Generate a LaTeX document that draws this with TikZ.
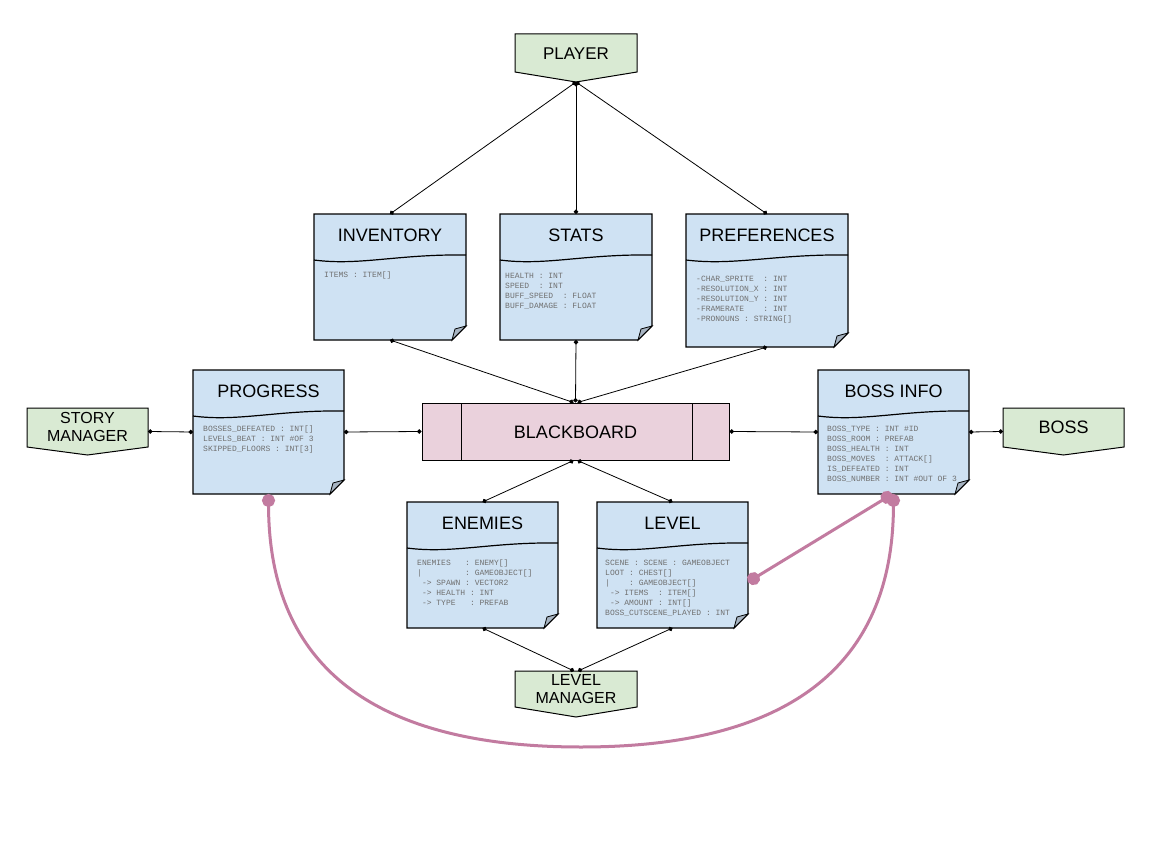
\documentclass[tikz,border=0pt]{standalone}
\usepackage{fontspec}
\setmainfont{Liberation Sans}
\setmonofont{Liberation Mono}
\usetikzlibrary{arrows.meta,calc}
\definecolor{noteblue}{HTML}{CFE2F3}
\definecolor{foldgray}{HTML}{A7B4C2}
\definecolor{gfill}{HTML}{D9EAD3}
\definecolor{bbfill}{HTML}{EAD1DC}
\definecolor{pinkline}{HTML}{C27BA0}
\definecolor{bodygray}{HTML}{707070}
\tikzset{
  outline/.style={draw=black, line width=1.2pt},
  conn/.style={draw=black, line width=0.8pt, {Circle[length=4.5pt]}-{Circle[length=4.5pt]}},
  pinkconn/.style={draw=pinkline, line width=3pt, {Circle[length=13pt]}-{Circle[length=13pt]}},
  anchorbox/.style={inner sep=0pt, outer sep=0pt, draw=none},
  titletext/.style={font=\fontsize{18}{20}\selectfont, inner sep=0pt},
  gtext/.style={font=\fontsize{16}{18}\selectfont, inner sep=0pt, align=center},
  bodytext/.style={font=\ttfamily\fontsize{8}{10}\selectfont, text=bodygray, align=left, anchor=north west, inner sep=0pt},
}
% name, l, t, r, b, title, bodyx, bodyy, body
\newcommand\mknote[9]{%
  \filldraw[fill=noteblue, outline] (#2,#3) -- (#4,#3) -- (#4,#5-14) -- (#4-14,#5) -- (#2,#5) -- cycle;
  \draw[outline] (#2,#3+46) .. controls ({#2+0.3*(#4-#2)},#3+52) and ({#2+0.55*(#4-#2)},#3+40) .. (#4,#3+41);
  \filldraw[fill=foldgray, draw=black, line width=0.8pt] (#4-14,#5) .. controls (#4-12,#5-6) .. (#4-11,#5-11) .. controls (#4-6,#5-12) .. (#4,#5-14) -- cycle;
  \node[anchorbox, minimum width={#4-#2}, minimum height={#5-#3}] (#1) at ({(#2+#4)/2},{(#3+#5)/2}) {};
  \node[titletext] (#1-title) at ({(#2+#4)/2},#3+21) {#6};
  \node[bodytext] (#1-body) at (#7,#8-4.4) {\strut#9};
}
% name, l, t, side, r, tip
\newcommand\mkgreen[6]{%
  \filldraw[fill=gfill, draw=black, line width=1pt] (#2,#3) -- (#5,#3) -- (#5,#4) -- ({(#2+#5)/2},#6) -- (#2,#4) -- cycle;
  \node[anchorbox, minimum width={#5-#2}, minimum height={#6-#3}] (#1) at ({(#2+#5)/2},{(#3+#6)/2}) {};
}
\begin{document}
\begin{tikzpicture}[x=1pt,y=-1pt]
\useasboundingbox (0,0) rectangle (1152,864);
\fill[white] (0,0) rectangle (1152,864);

% green terminals
\mkgreen{player}{515}{34}{72}{637}{82}
\node[titletext, font=\fontsize{17}{19}\selectfont] (player-text) at (576,54) {PLAYER};
\mkgreen{story}{27}{408}{447}{148}{455}
\node[gtext] (story-text) at (87.5,427) {STORY\\MANAGER};
\mkgreen{boss}{1003}{408}{447}{1124}{455}
\node[titletext] (boss-text) at (1063.5,427) {BOSS};
\mkgreen{lm}{515}{671}{707}{637}{717}
\node[gtext] (lm-text) at (576,689.5) {LEVEL\\MANAGER};

% blackboard
\node[fill=bbfill, draw=black, line width=1pt, minimum width=307pt, minimum height=57pt, inner sep=0pt] (bb) at (575.5,431.5) {};
\draw[black, line width=1pt] (461,403) -- (461,460) (692,403) -- (692,460);
\node[titletext] (bb-text) at (575.5,432) {BLACKBOARD};

% notes
\mknote{inv}{314}{214}{466}{340}{INVENTORY}{324}{275}{ITEMS : ITEM[]}
\mknote{stats}{500}{214}{652}{340}{STATS}{505}{276}{HEALTH : INT\\SPEED~~: INT\\BUFF\_SPEED~~: FLOAT\\BUFF\_DAMAGE : FLOAT}
\mknote{pref}{686}{214}{848}{347}{PREFERENCES}{696}{279}{-CHAR\_SPRITE~~: INT\\-RESOLUTION\_X : INT\\-RESOLUTION\_Y : INT\\-FRAMERATE~~~~: INT\\-PRONOUNS : STRING[]}
\mknote{prog}{193}{370}{344}{494}{PROGRESS}{203}{429}{BOSSES\_DEFEATED : INT[]\\LEVELS\_BEAT : INT \#OF 3\\SKIPPED\_FLOORS : INT[3]}
\mknote{bi}{818}{370}{969}{494}{BOSS INFO}{827}{429}{BOSS\_TYPE : INT \#ID\\BOSS\_ROOM : PREFAB\\BOSS\_HEALTH : INT\\BOSS\_MOVES~~: ATTACK[]\\IS\_DEFEATED : INT\\BOSS\_NUMBER : INT \#OUT OF 3}
\mknote{en}{407}{502}{558}{628}{ENEMIES}{417}{563}{ENEMIES~~~: ENEMY[]\\|~~~~~~~~~: GAMEOBJECT[]\\~-> SPAWN : VECTOR2\\~-> HEALTH : INT\\~-> TYPE~~~: PREFAB}
\mknote{lvl}{597}{502}{748}{628}{LEVEL}{605}{563}{SCENE : SCENE : GAMEOBJECT\\LOOT : CHEST[]\\|~~~~: GAMEOBJECT[]\\~-> ITEMS~~: ITEM[]\\~-> AMOUNT : INT[]\\BOSS\_CUTSCENE\_PLAYED : INT}

% black connectors
\draw[conn] (player.south) -- (inv.north);
\draw[conn] (player.south) -- (stats.north);
\draw[conn] (player.south) -- (pref.north);
\draw[conn] (inv.south) -- ([xshift=-2pt]bb.north);
\draw[conn] (stats.south) -- (bb.north);
\draw[conn] (pref.south) -- ([xshift=2pt]bb.north);
\draw[conn] (story.east) -- (prog.west);
\draw[conn] (prog.east) -- (bb.west);
\draw[conn] (bb.east) -- (bi.west);
\draw[conn] (bi.east) -- (boss.west);
\draw[conn] ([xshift=-2pt]bb.south) -- (en.north);
\draw[conn] ([xshift=2pt]bb.south) -- (lvl.north);
\draw[conn] (en.south) -- ([xshift=-2pt]lm.north);
\draw[conn] (lvl.south) -- ([xshift=2pt]lm.north);

% pink connectors
\coordinate (arcbot) at (581,747);
\draw[pinkconn] (prog.south) .. controls (269,675) and (385,747) .. (arcbot) .. controls (777,747) and (893,675) .. (bi.south);
\draw[pinkconn] ($(lvl.east)+(0,17)$) -- ([xshift=-1pt]bi.south);
\end{tikzpicture}
\end{document}
